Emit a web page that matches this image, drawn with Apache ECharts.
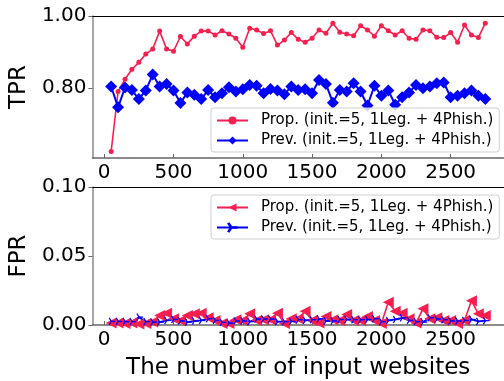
<!DOCTYPE html>
<html>
<head>
<meta charset="utf-8">
<script src="https://cdn.jsdelivr.net/npm/echarts@6/dist/echarts.min.js"></script>
<style>
  html, body { margin: 0; padding: 0; background: #fff; }
  #chart { width: 504px; height: 381px; }
</style>
</head>
<body>
<div id="chart"></div>
<script>
// number of input websites (x)
const websites = [50, 100, 150, 200, 250, 300, 350, 400, 450, 500, 550, 600, 650, 700, 750, 800,
  850, 900, 950, 1000, 1050, 1100, 1150, 1200, 1250, 1300, 1350, 1400, 1450, 1500, 1550, 1600,
  1650, 1700, 1750, 1800, 1850, 1900, 1950, 2000, 2050, 2100, 2150, 2200, 2250, 2300, 2350, 2400,
  2450, 2500, 2550, 2600, 2650, 2700, 2750]

// TPR
const tprProp = [0.623, 0.790, 0.824, 0.852, 0.871, 0.894, 0.908, 0.958, 0.908, 0.902, 0.943, 0.922,
  0.944, 0.958, 0.958, 0.947, 0.959, 0.950, 0.938, 0.913, 0.966, 0.961, 0.951, 0.959, 0.919, 0.933,
  0.954, 0.935, 0.927, 0.938, 0.961, 0.952, 0.980, 0.955, 0.950, 0.945, 0.973, 0.961, 0.944, 0.973,
  0.959, 0.947, 0.959, 0.938, 0.935, 0.961, 0.959, 0.941, 0.940, 0.954, 0.927, 0.975, 0.947, 0.940,
  0.980]
const tprPrev = [0.804, 0.746, 0.801, 0.794, 0.769, 0.793, 0.837, 0.804, 0.811, 0.793, 0.758, 0.787,
  0.781, 0.769, 0.794, 0.774, 0.785, 0.802, 0.790, 0.796, 0.808, 0.806, 0.785, 0.797, 0.793, 0.782,
  0.804, 0.794, 0.796, 0.785, 0.822, 0.811, 0.759, 0.794, 0.790, 0.813, 0.790, 0.751, 0.806, 0.778,
  0.793, 0.753, 0.774, 0.787, 0.808, 0.799, 0.804, 0.813, 0.815, 0.774, 0.778, 0.785, 0.793, 0.778,
  0.769]

// FPR
const fprProp = [0.0014, 0.0014, 0.0010, 0.0014, 0.0007, 0.0010, 0.0021, 0.0069, 0.0086, 0.0045,
  0.0033, 0.0069, 0.0081, 0.0086, 0.0052, 0.0033, 0.0010, 0.0010, 0.0038, 0.0033, 0.0081, 0.0033,
  0.0038, 0.0038, 0.0086, 0.0010, 0.0045, 0.0045, 0.0100, 0.0033, 0.0014, 0.0062, 0.0038, 0.0033,
  0.0076, 0.0033, 0.0033, 0.0062, 0.0033, 0.0010, 0.0164, 0.0100, 0.0086, 0.0045, 0.0014, 0.0117,
  0.0045, 0.0052, 0.0033, 0.0033, 0.0010, 0.0033, 0.0176, 0.0081, 0.0069]
const fprPrev = [0.0026, 0.0026, 0.0024, 0.0024, 0.0057, 0.0024, 0.0021, 0.0021, 0.0033, 0.0040,
  0.0029, 0.0021, 0.0029, 0.0033, 0.0045, 0.0033, 0.0019, 0.0014, 0.0029, 0.0029, 0.0024, 0.0043,
  0.0043, 0.0043, 0.0024, 0.0024, 0.0026, 0.0038, 0.0033, 0.0038, 0.0045, 0.0029, 0.0029, 0.0040,
  0.0040, 0.0038, 0.0038, 0.0040, 0.0045, 0.0024, 0.0033, 0.0040, 0.0052, 0.0033, 0.0024, 0.0021,
  0.0052, 0.0043, 0.0038, 0.0029, 0.0029, 0.0033, 0.0040, 0.0026, 0.0031]

const xTicks = [0, 500, 1000, 1500, 2000, 2500]
const tprTicks = [0.8, 1.0]
const fprTicks = [0, 0.05, 0.1]

const propName = 'Prop. (init.=5, 1Leg. + 4Phish.)'
const prevName = 'Prev. (init.=5, 1Leg. + 4Phish.)'

const RED = '#f81e4e'
const BLUE = '#0000ff'
const FONT = 'DejaVu Sans'
// matplotlib tri_right marker
const TRI_RIGHT = 'path://M10,9.4L20,9.4L20,10.6L10,10.6Z M10.5,9.7L5.5,1.04L4.5,1.64L9.5,10.3Z M10.5,10.3L5.5,18.96L4.5,18.36L9.5,9.7Z'

const chart = echarts.init(document.getElementById('chart'))

const pairs = (ys) => websites.map((w, i) => [w, ys[i]])

const grids = [
  { left: 91, right: -7, top: 16, height: 142 },
  { left: 91, right: -7, top: 187, height: 141 }
]

const bottomX = (gridIndex, extra) => Object.assign({
  type: 'value',
  gridIndex,
  min: -85,
  max: 2885,
  splitLine: { show: false },
  axisLine: { onZero: false, lineStyle: { color: '#666', width: 1.5 } },
  axisTick: { inside: true, length: 4, customValues: xTicks, lineStyle: { color: '#666', width: 1 } },
  axisLabel: {
    customValues: xTicks, margin: 5, fontSize: 20, fontFamily: FONT, color: '#000',
    formatter: (v) => String(v)
  }
}, extra)

const topX = (gridIndex) => ({
  type: 'value',
  gridIndex,
  position: 'top',
  min: -85,
  max: 2885,
  splitLine: { show: false },
  axisLine: { onZero: false, lineStyle: { color: '#000', width: 1 } },
  axisTick: { show: false },
  axisLabel: { show: false }
})

const leftY = (gridIndex, min, max, ticks, name) => ({
  type: 'value',
  gridIndex,
  min,
  max,
  name,
  nameLocation: 'middle',
  nameGap: 58,
  nameTextStyle: { fontSize: 23, fontFamily: FONT, color: '#000' },
  splitLine: { show: false },
  axisLine: { onZero: false, lineStyle: { color: '#888', width: 1.5 } },
  axisTick: { length: 4, customValues: ticks, lineStyle: { color: '#666', width: 1 } },
  axisLabel: {
    customValues: ticks, margin: 6, fontSize: 20, fontFamily: FONT, color: '#000',
    formatter: (v) => v.toFixed(2)
  }
})

const legendBase = {
  orient: 'vertical',
  left: 211,
  itemWidth: 31,
  itemHeight: 10,
  itemGap: 5,
  padding: [5, 6, 4, 5],
  borderColor: '#cfcfcf',
  borderWidth: 1,
  borderRadius: 3,
  backgroundColor: 'rgba(255,255,255,0.8)',
  selectedMode: false,
  formatter: (n) => n.trim(),
  textStyle: { fontSize: 15, fontFamily: FONT, color: '#000', padding: [0, 0, 0, 8] }
}

chart.setOption({
  animation: false,
  backgroundColor: '#fff',
  grid: grids,
  xAxis: [
    bottomX(0),
    topX(0),
    bottomX(1, {
      name: 'The number of input websites',
      nameLocation: 'middle',
      nameGap: 32,
      nameTextStyle: { fontSize: 23, fontFamily: FONT, color: '#000' }
    }),
    topX(1)
  ],
  yAxis: [
    leftY(0, 0.605, 1.0, tprTicks, 'TPR'),
    leftY(1, 0, 0.1, fprTicks, 'FPR')
  ],
  legend: [
    Object.assign({}, legendBase, { top: 108, data: [propName, prevName] }),
    Object.assign({}, legendBase, { top: 195, data: [propName + ' ', prevName + ' '] })
  ],
  series: [
    {
      name: propName, type: 'line', xAxisIndex: 0, yAxisIndex: 0,
      data: pairs(tprProp),
      symbol: 'circle', symbolSize: 5,
      itemStyle: { color: RED }, lineStyle: { color: RED, width: 1.6 }
    },
    {
      name: prevName, type: 'line', xAxisIndex: 0, yAxisIndex: 0,
      data: pairs(tprPrev),
      symbol: 'diamond', symbolSize: 12,
      itemStyle: { color: BLUE }, lineStyle: { color: BLUE, width: 2 }
    },
    {
      name: propName + ' ', type: 'line', xAxisIndex: 2, yAxisIndex: 1,
      data: pairs(fprProp),
      symbol: 'triangle', symbolRotate: 90, symbolSize: 11,
      itemStyle: { color: RED }, lineStyle: { color: RED, width: 1.6 }
    },
    {
      name: prevName + ' ', type: 'line', xAxisIndex: 2, yAxisIndex: 1,
      data: pairs(fprPrev),
      symbol: TRI_RIGHT, symbolSize: [6, 7], symbolOffset: [1, 0],
      itemStyle: { color: BLUE, borderColor: BLUE, borderWidth: 0.8 },
      lineStyle: { color: BLUE, width: 1.8 }
    }
  ]
})
</script>
</body>
</html>
